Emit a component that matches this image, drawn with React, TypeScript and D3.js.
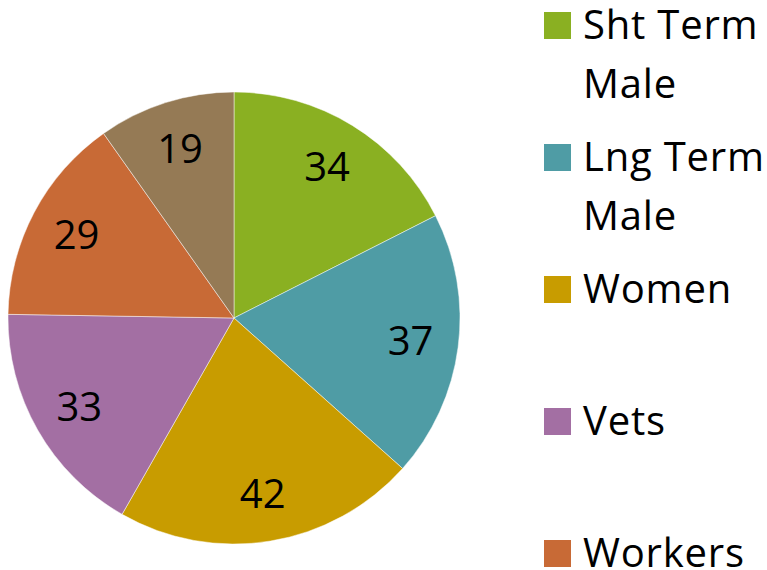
import React from "react";
import * as d3 from "d3";

const categories = ["Sht Term Male", "Lng Term Male", "Women", "Vets", "Workers", "Other"];
const legendLines = [["Sht Term", "Male"], ["Lng Term", "Male"], ["Women"], ["Vets"], ["Workers"]];
const values = [34, 37, 42, 33, 29, 19];
const colors = ["#8AB022", "#4F9CA5", "#C89C00", "#A36FA3", "#C86A36", "#957A55"];

const W = 767, H = 570;
const cx = 234, cy = 318, R = 226;
const FONT = "'Open Sans', sans-serif";
const FS = 40;

export default function App() {
  const pie = d3.pie<number>().sort(null).value((d) => d);
  const arcs = pie(values);
  const arc = d3.arc<d3.PieArcDatum<number>>().innerRadius(0).outerRadius(R);
  const labelArc = d3.arc<d3.PieArcDatum<number>>().innerRadius(178).outerRadius(178);

  return (
    <svg width={W} height={H} style={{ position: "absolute", left: 0, top: 0, background: "#fff" }}>
      <g transform={`translate(${cx},${cy})`}>
        {arcs.map((a, i) => (
          <path key={i} d={arc(a) || ""} fill={colors[i]} stroke="#fff" strokeWidth={0.8} strokeOpacity={0.6} />
        ))}
        {arcs.map((a, i) => {
          const [x, y] = labelArc.centroid(a);
          return (
            <text key={i} x={x} y={y} dy="0.36em" textAnchor="middle" fontFamily={FONT} fontSize={FS} fill="#000">
              {values[i]}
            </text>
          );
        })}
      </g>
      {legendLines.map((lines, i) => {
        const top = 12 + i * 132;
        return (
          <g key={i}>
            <rect x={544} y={top} width={27} height={27} fill={colors[i]} />
            {lines.map((ln, j) => (
              <text key={j} x={583} y={top + 27 + j * 59} fontFamily={FONT} fontSize={FS} fill="#000" letterSpacing={0.8}>
                {ln}
              </text>
            ))}
          </g>
        );
      })}
    </svg>
  );
}
